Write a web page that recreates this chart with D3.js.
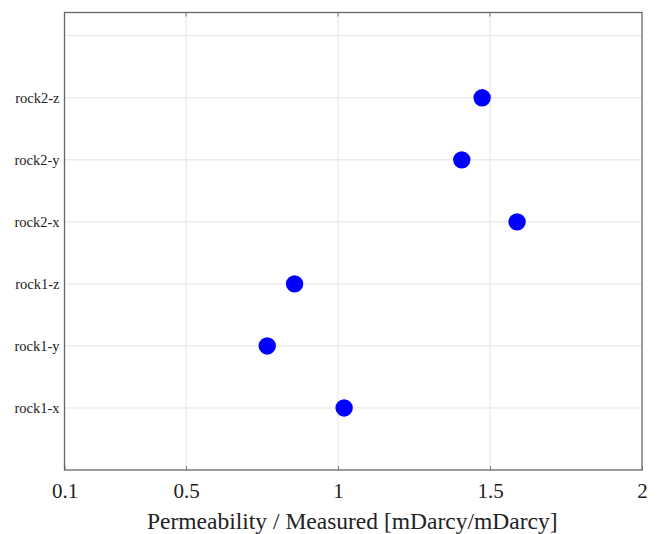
<!DOCTYPE html>
<html>
<head>
<meta charset="utf-8">
<script src="https://cdn.jsdelivr.net/npm/d3@7"></script>
<style>
  html, body { margin: 0; padding: 0; background: #fff; }
  svg { display: block; }
</style>
</head>
<body>
<svg id="chart" width="657" height="534"></svg>
<script>
// Samples plotted bottom to top
const categories = ["rock1-x", "rock1-y", "rock1-z", "rock2-x", "rock2-y", "rock2-z"];
// Permeability ratio (model / measured)
const ratios = [1.02, 0.767, 0.857, 1.589, 1.407, 1.474];
// X tick values and their labels
const xTicks = [0.1, 0.5, 1, 1.5, 2];
const xTickLabels = ["0.1", "0.5", "1", "1.5", "2"];
// Horizontal grid rows (one extra empty row above the last sample)
const yGridRows = [1, 2, 3, 4, 5, 6, 7];

const svg = d3.select("#chart");
const plotL = 64.5, plotR = 642, plotT = 12.5, plotB = 470;

const x = d3.scaleLinear().domain([0.1, 2]).range([plotL, plotR]);
const y = d3.scaleLinear().domain([0, 7.375]).range([plotB, plotT]);

const serif = "'Liberation Serif', 'Times New Roman', serif";

// vertical grid
svg.append("g").selectAll("line").data(xTicks.slice(1, -1)).join("line")
  .attr("x1", d => x(d)).attr("x2", d => x(d))
  .attr("y1", plotT).attr("y2", plotB)
  .attr("stroke", "#e3e3e3").attr("stroke-width", 1);

// horizontal grid
svg.append("g").selectAll("line").data(yGridRows).join("line")
  .attr("x1", plotL).attr("x2", plotR)
  .attr("y1", d => y(d)).attr("y2", d => y(d))
  .attr("stroke", "#e3e3e3").attr("stroke-width", 1);

// bottom axis with inward ticks
const xAxis = d3.axisBottom(x).tickValues(xTicks)
  .tickFormat((d, i) => xTickLabels[i]).tickSizeInner(-4).tickSizeOuter(0).tickPadding(13);
const gx = svg.append("g").attr("transform", `translate(0,${plotB})`).call(xAxis);
gx.select(".domain").remove();
gx.selectAll(".tick line").attr("stroke", "#777");
gx.selectAll(".tick text").attr("font-family", serif).attr("font-size", 21).attr("fill", "#222");

// top ticks (inward)
svg.append("g").selectAll("line").data(xTicks.slice(1, -1)).join("line")
  .attr("x1", d => x(d)).attr("x2", d => x(d))
  .attr("y1", plotT).attr("y2", plotT + 4)
  .attr("stroke", "#777");

// left axis category labels
const yAxis = d3.axisLeft(y).tickValues(categories.map((c, i) => i + 1))
  .tickFormat(d => categories[d - 1]).tickSize(0).tickPadding(5);
const gy = svg.append("g").attr("transform", `translate(${plotL},0)`).call(yAxis);
gy.select(".domain").remove();
gy.selectAll(".tick text").attr("font-family", serif).attr("font-size", 14.5).attr("fill", "#222");

// plot frame
svg.append("rect")
  .attr("x", plotL).attr("y", plotT)
  .attr("width", plotR - plotL).attr("height", plotB - plotT)
  .attr("fill", "none").attr("stroke", "#666").attr("stroke-width", 1.3);

// data points
svg.append("g").selectAll("circle").data(ratios).join("circle")
  .attr("cx", d => x(d))
  .attr("cy", (d, i) => y(i + 1))
  .attr("r", 8.7)
  .attr("fill", "#0000ff");

// x axis title
svg.append("text")
  .attr("x", (plotL + plotR) / 2 - 1).attr("y", 529)
  .attr("text-anchor", "middle")
  .attr("font-family", serif).attr("font-size", 23.5).attr("fill", "#222")
  .text("Permeability / Measured [mDarcy/mDarcy]");
</script>
</body>
</html>
